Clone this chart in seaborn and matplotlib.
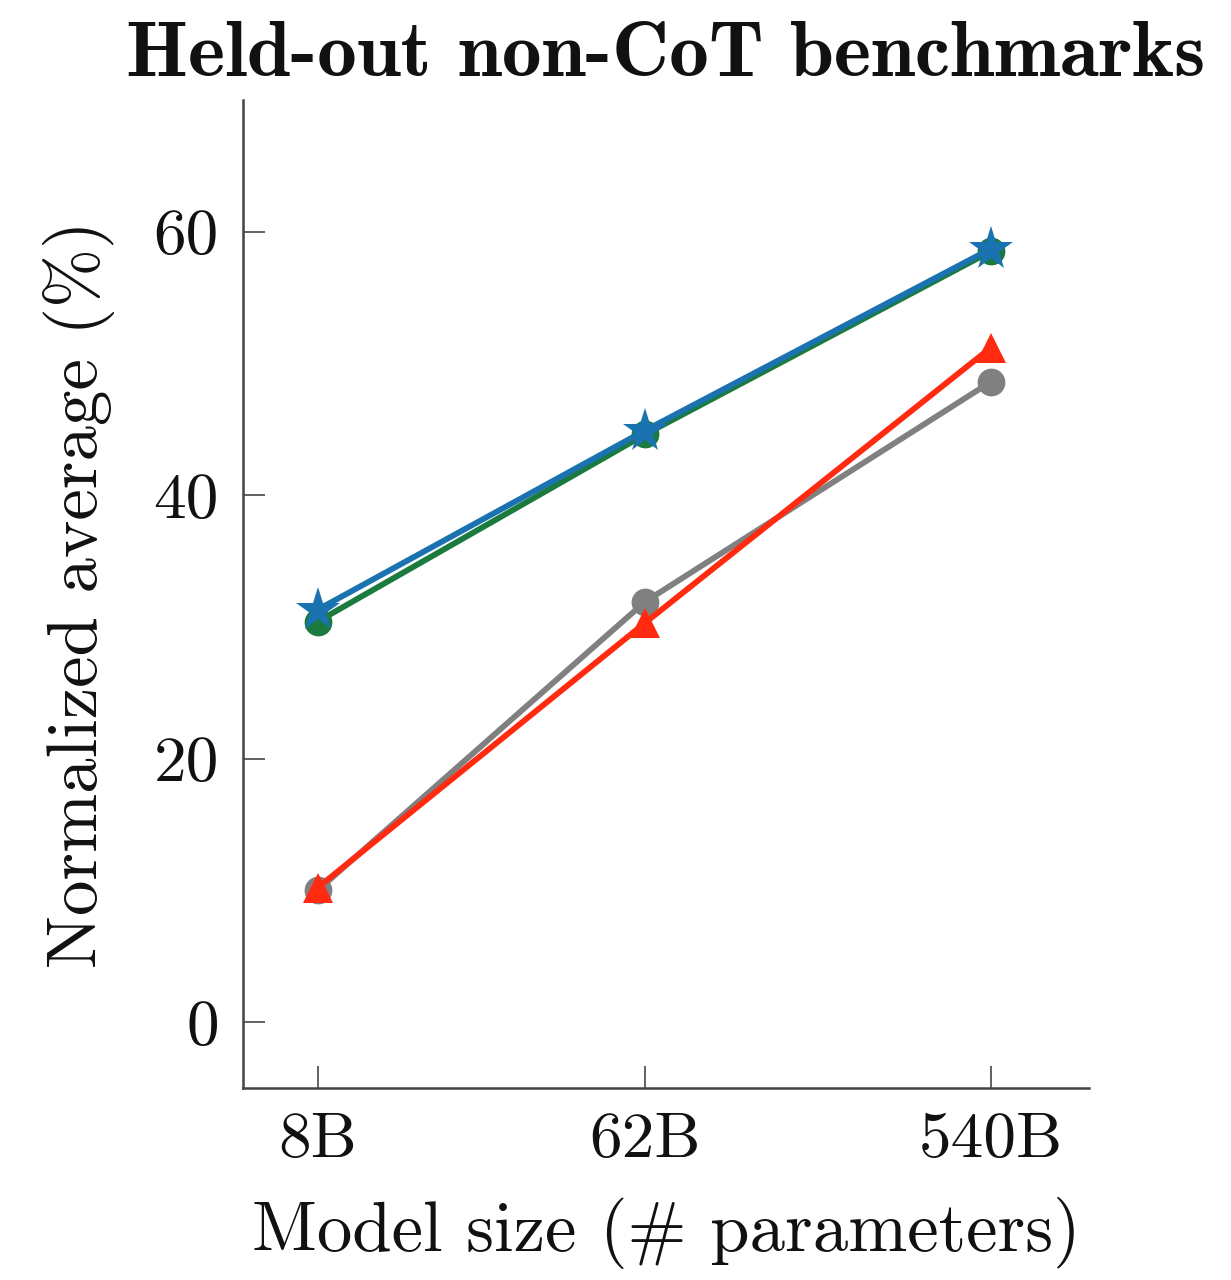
import matplotlib
matplotlib.use("Agg")
import matplotlib.pyplot as plt
import seaborn as sns
import pandas as pd

sizes = [8, 62, 540]
size_labels = ["8B", "62B", "540B"]
series_names = ["Green", "Blue", "Gray", "Red"]
green_vals = [30.4, 44.6, 58.5]
blue_vals = [31.3, 44.9, 58.7]
gray_vals = [10.0, 31.9, 48.6]
red_vals = [10.2, 30.3, 51.2]
colors = ["#1b7a3e", "#1a72b0", "#808080", "#ff2a10"]
markers = ["o", "*", "o", "^"]
msizes = [20, 33, 20, 22]

sns.set_theme(style="white")
plt.rcParams["font.family"] = ["cmr10"]
plt.rcParams["mathtext.fontset"] = "cm"
plt.rcParams["axes.formatter.use_mathtext"] = True

fig = plt.figure(figsize=(12.31, 12.8), dpi=100)
ax = fig.add_axes([0.197, 0.15, 0.688, 0.772])

all_vals = [green_vals, blue_vals, gray_vals, red_vals]
for name, vals, c, m, ms in zip(series_names, all_vals, colors, markers, msizes):
    df = pd.DataFrame({"size": sizes, "value": vals})
    sns.lineplot(data=df, x="size", y="value", ax=ax, color=c, marker=m,
                 markersize=ms, markeredgewidth=0, linewidth=4.2, label=name)

ax.set_xscale("log")
ax.set_xlim(5, 1000)
ax.set_ylim(-5, 70)
ax.set_xticks(sizes)
ax.set_xticklabels(size_labels)
ax.minorticks_off()
ax.set_yticks([0, 20, 40, 60])
ax.set_yticklabels(["0", "20", "40", "60"])
ax.legend_.remove()

for s in ["top", "right"]:
    ax.spines[s].set_visible(False)
for s in ["left", "bottom"]:
    ax.spines[s].set_color("#444444")
    ax.spines[s].set_linewidth(1.8)

ax.tick_params(axis="both", which="major", left=True, bottom=True,
               direction="in", length=16, width=1.3, colors="#555555",
               labelsize=47, labelcolor="#111111", pad=17)

ax.set_xlabel("Model size (# parameters)", fontsize=51, labelpad=20, color="#111111")
ax.set_ylabel("Normalized average (%)", fontsize=51, labelpad=28, color="#111111")
ax.set_title("Held-out non-CoT benchmarks", fontsize=57, fontfamily="cmb10",
             color="#111111", pad=17, loc="center", x=0.5)

fig.savefig("out.png", dpi=100, facecolor="white")
